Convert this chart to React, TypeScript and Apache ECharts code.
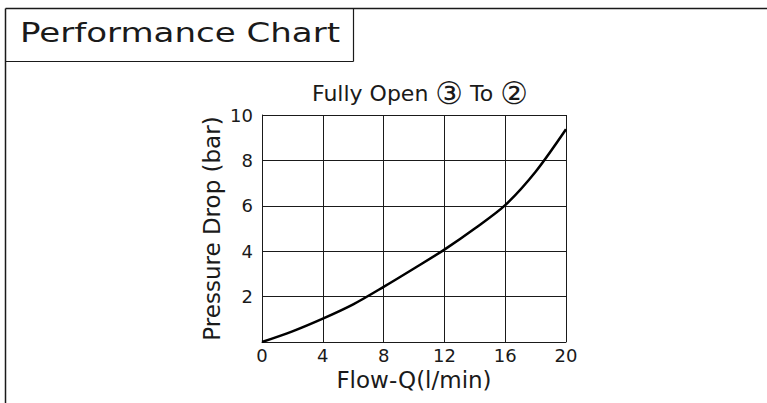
import React, { useEffect, useRef } from "react";
import * as echarts from "echarts";

const flowQ = [0, 2, 4, 6, 8, 10, 12, 14, 16, 18, 20];
const pressureDrop = [0, 0.47, 1.03, 1.66, 2.43, 3.24, 4.07, 5.0, 6.03, 7.5, 9.37];
const xTicks = [0, 4, 8, 12, 16, 20];
const yTicks = [0, 2, 4, 6, 8, 10];
const chartTitle = "Performance Chart";
const curveTitleParts = ["Fully Open ", "③", " To ", "②"];
const xName = "Flow-Q(l/min)";
const yName = "Pressure Drop (bar)";

const FONT = "'DejaVu Sans', sans-serif";
const INK = "#1a1a1a";

export default function App() {
  const ref = useRef<HTMLDivElement>(null);
  useEffect(() => {
    if (!ref.current) return;
    const chart = echarts.init(ref.current, undefined, { renderer: "svg" });
    chart.setOption({
      animation: false,
      backgroundColor: "#ffffff",
      title: {
        text:
          curveTitleParts[0] +
          "{c|" + curveTitleParts[1] + "}" +
          curveTitleParts[2] +
          "{c|" + curveTitleParts[3] + "}",
        left: 415,
        top: 75,
        textAlign: "center",
        textStyle: {
          fontFamily: FONT,
          fontSize: 22,
          fontWeight: "normal",
          color: INK,
          lineHeight: 26,
          rich: {
            c: { fontFamily: FONT, fontSize: 31, color: INK, lineHeight: 26 },
          },
        },
      },
      grid: { left: 262, right: 201, top: 115, bottom: 61 },
      xAxis: {
        type: "value",
        min: 0,
        max: 20,
        interval: 4,
        name: xName,
        nameLocation: "middle",
        nameGap: 26,
        nameTextStyle: { fontFamily: FONT, fontSize: 23, color: INK },
        axisLine: { show: true, lineStyle: { color: INK, width: 1 } },
        axisTick: { show: false },
        axisLabel: {
          fontFamily: FONT,
          fontSize: 18,
          color: INK,
          margin: 4,
          formatter: (v: number) => (xTicks.includes(v) ? String(v) : ""),
        },
        splitLine: { show: true, lineStyle: { color: INK, width: 1 } },
      },
      yAxis: {
        type: "value",
        min: 0,
        max: 10,
        interval: 2,
        name: yName,
        nameLocation: "middle",
        nameRotate: 90,
        nameGap: 39,
        nameTextStyle: { fontFamily: FONT, fontSize: 23, color: INK },
        axisLine: { show: true, lineStyle: { color: INK, width: 1 } },
        axisTick: { show: false },
        axisLabel: {
          fontFamily: FONT,
          fontSize: 18,
          color: INK,
          margin: 9,
          formatter: (v: number) => (v === 0 || !yTicks.includes(v) ? "" : String(v)),
        },
        splitLine: { show: true, lineStyle: { color: INK, width: 1 } },
      },
      series: [
        {
          type: "line",
          data: flowQ.map((x, i) => [x, pressureDrop[i]]),
          smooth: 0.3,
          showSymbol: false,
          lineStyle: { color: "#000000", width: 2.5 },
        },
      ],
      graphic: [
        { type: "line", shape: { x1: 5.5, y1: 8.5, x2: 767, y2: 8.5 }, style: { stroke: INK, lineWidth: 1.5 } },
        { type: "line", shape: { x1: 5.5, y1: 8.5, x2: 5.5, y2: 403 }, style: { stroke: INK, lineWidth: 1.5 } },
        { type: "line", shape: { x1: 5.5, y1: 61.5, x2: 353.5, y2: 61.5 }, style: { stroke: INK, lineWidth: 1.2 } },
        { type: "line", shape: { x1: 353.5, y1: 8.5, x2: 353.5, y2: 61.5 }, style: { stroke: INK, lineWidth: 1.2 } },
        {
          type: "text",
          x: 20,
          y: 20,
          scaleX: 1.31,
          style: { text: chartTitle, fontFamily: FONT, fontSize: 26, fill: INK },
        },
      ],
    });
    return () => chart.dispose();
  }, []);
  return (
    <div
      ref={ref}
      style={{ position: "absolute", left: 0, top: 0, width: 767, height: 403 }}
    />
  );
}
